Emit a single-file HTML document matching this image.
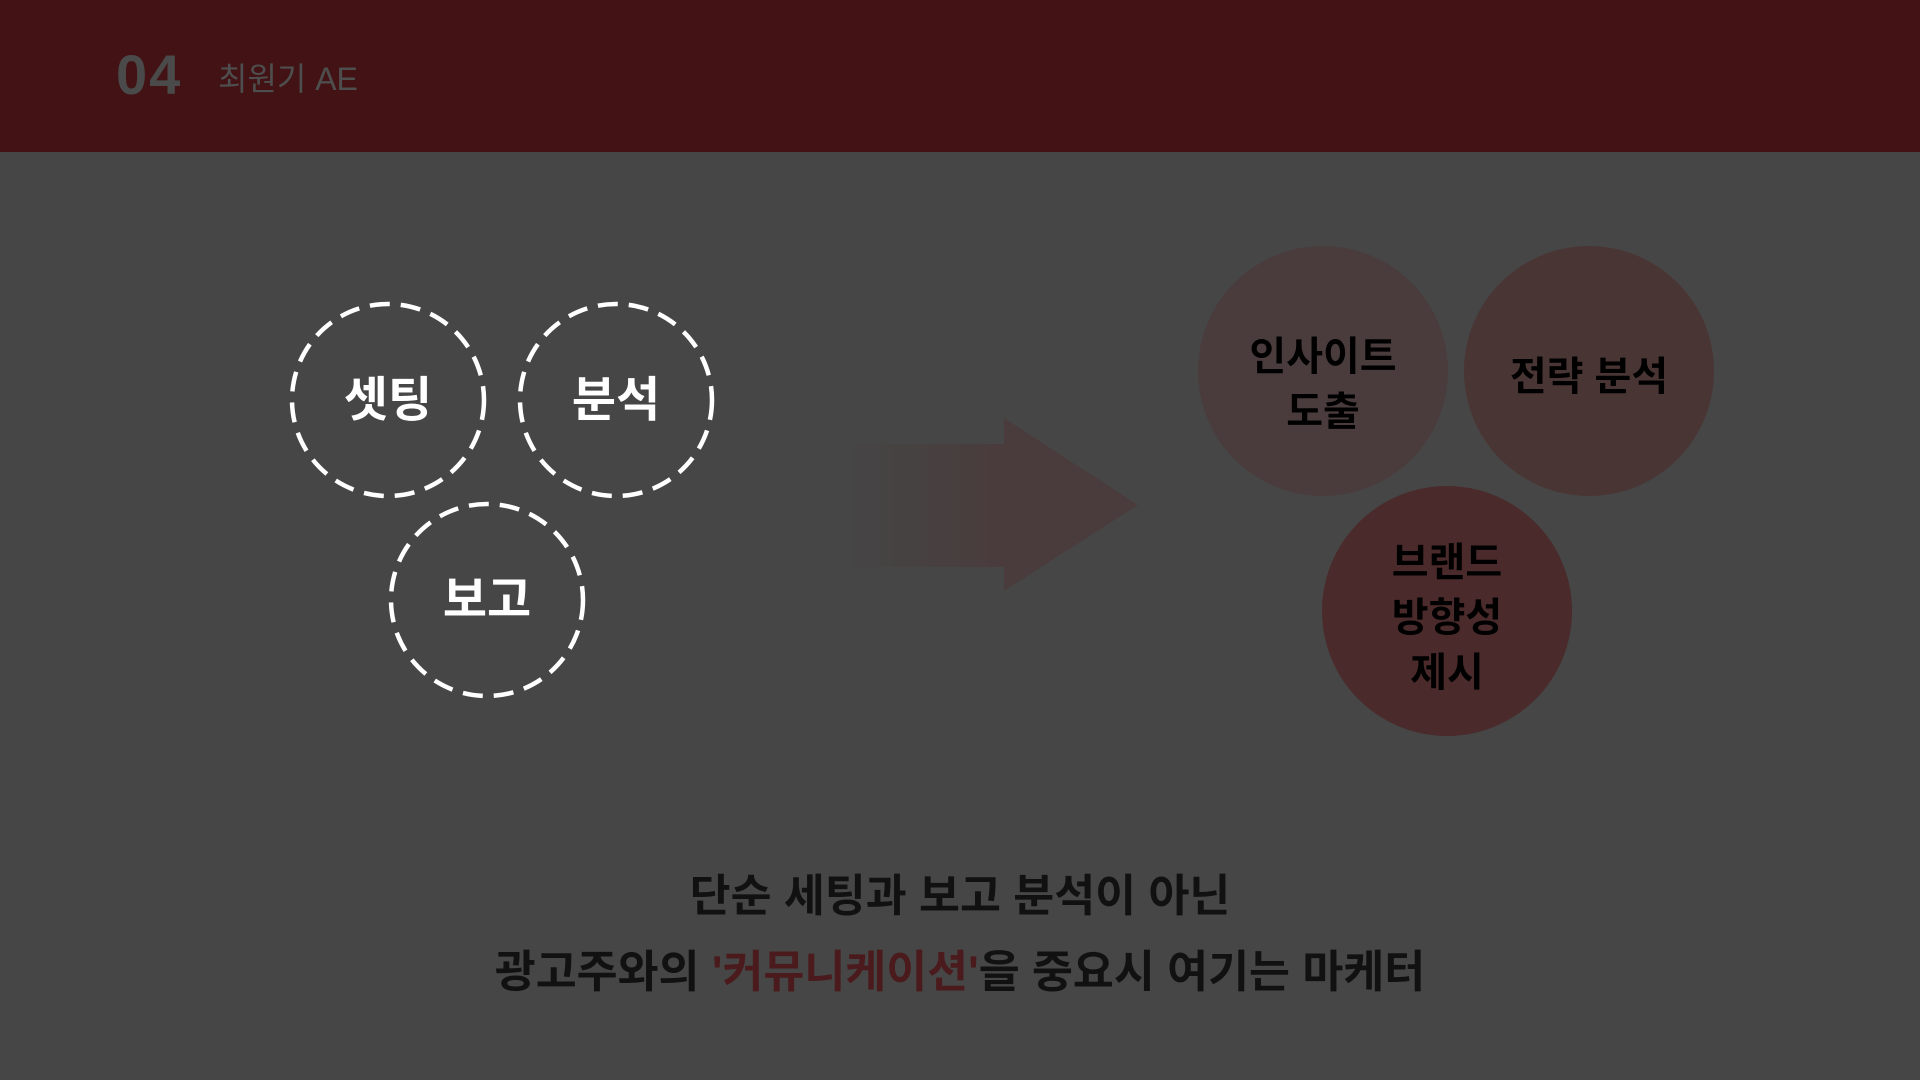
<!DOCTYPE html>
<html><head><meta charset="utf-8"><style>
body{margin:0;width:1920px;height:1080px;background:#464646;overflow:hidden;position:relative;font-family:"Liberation Sans","Noto Sans CJK KR",sans-serif}
.hdr{position:absolute;left:0;top:0;width:1920px;height:152px;background:#421214}
.t{position:absolute;white-space:nowrap}
</style></head><body>
<div class="hdr"></div>
<div class="t" style="left:116px;top:42px;font-size:56px;font-weight:bold;letter-spacing:2px;color:#4a4a4a;font-family:'Liberation Sans',sans-serif">04</div>
<div class="t" style="left:218px;top:54px;font-size:32px;color:#4e4e4e">최원기 AE</div>
<svg width="1920" height="1080" style="position:absolute;left:0;top:0">
<defs><linearGradient id="g" x1="0" x2="1"><stop offset="0" stop-color="#463f3f" stop-opacity="0.2"/><stop offset="0.5" stop-color="#4a3c3c"/></linearGradient></defs>
<g fill="none" stroke="#fff" stroke-width="4.5" stroke-dasharray="20 11">
<circle cx="388" cy="400" r="96"/><circle cx="616" cy="400" r="96"/><circle cx="487" cy="600" r="96"/>
</g>
<polygon points="853,444 1004,444 1004,418 1138,505 1004,591 1004,567 853,567" fill="url(#g)"/>
<circle cx="1323" cy="371" r="125" fill="#4a3c3c"/>
<circle cx="1589" cy="371" r="125" fill="#4a3535"/>
<circle cx="1447" cy="611" r="125" fill="#4a2a2a"/>
<g font-family="Liberation Sans,Noto Sans CJK KR,sans-serif" font-weight="bold" text-anchor="middle">
<g fill="#fff" font-size="48"><text x="388" y="416">셋팅</text><text x="616" y="416">분석</text><text x="487" y="616">보고</text></g>
<g fill="#000" font-size="40"><text x="1323" y="370">인사이트</text><text x="1323" y="425">도출</text>
<text x="1589" y="390">전략 분석</text>
<text x="1447" y="576">브랜드</text><text x="1447" y="631">방향성</text><text x="1447" y="686">제시</text></g>
<g fill="#111" font-size="44.5"><text x="960" y="911">단순 세팅과 보고 분석이 아닌</text>
<text x="960" y="987">광고주와의 <tspan fill="#4a1a1c">'커뮤니케이션'</tspan>을 중요시 여기는 마케터</text></g>
</g>
</svg>
</body></html>
